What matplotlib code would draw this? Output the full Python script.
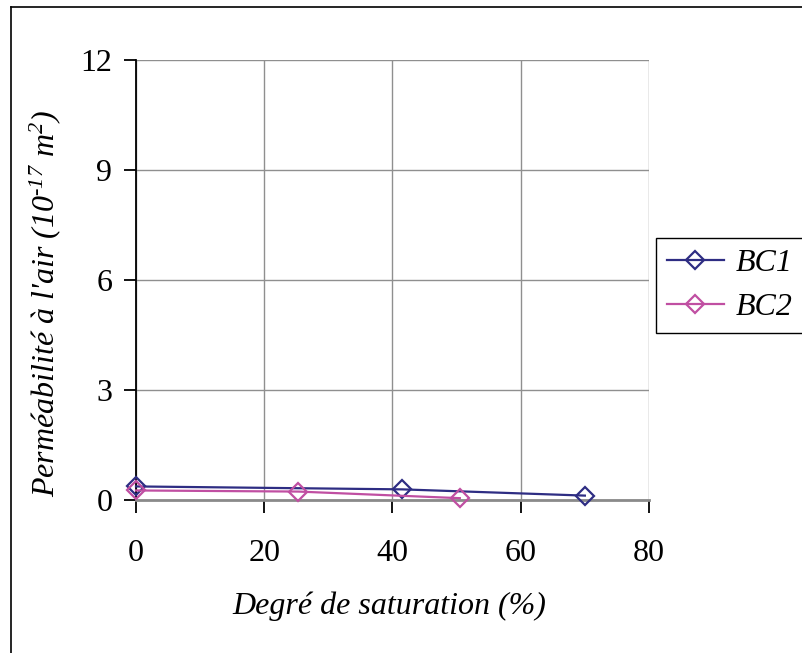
import matplotlib
matplotlib.use("Agg")
import matplotlib.pyplot as plt
from matplotlib.lines import Line2D

plt.rcParams['font.family'] = ['Liberation Serif', 'DejaVu Serif']
plt.rcParams['mathtext.fontset'] = 'custom'
plt.rcParams['mathtext.rm'] = 'Liberation Serif:italic'
plt.rcParams['mathtext.it'] = 'Liberation Serif:italic'

series_names = ["BC1", "BC2"]
bc1_x = [0, 41.5, 70]
bc1_y = [0.37, 0.29, 0.12]
bc2_x = [0, 25.3, 50.5]
bc2_y = [0.26, 0.23, 0.05]
x_ticks = [0, 20, 40, 60, 80]
y_ticks = [0, 3, 6, 9, 12]

W, H = 803, 653
fig = plt.figure(figsize=(W / 100, H / 100), dpi=100)
ax = fig.add_axes([136 / W, 1 - 500 / H, (649 - 136) / W, (500 - 60) / H])

c1 = '#2E2D83'
c2 = '#C04FA2'
for xs, ys, c, name in [(bc1_x, bc1_y, c1, series_names[0]), (bc2_x, bc2_y, c2, series_names[1])]:
    ax.plot(xs, ys, color=c, lw=1.6, marker='D', markersize=9.5, markerfacecolor='none',
            markeredgecolor=c, markeredgewidth=1.6, label=name, clip_on=False, zorder=3)

ax.set_xlim(0, 80)
ax.set_ylim(0, 12)
ax.set_xticks(x_ticks)
ax.set_yticks(y_ticks)
ax.grid(True, color='#8f8f8f', lw=1.0)
ax.set_axisbelow(True)
for s in ['top', 'right']:
    ax.spines[s].set_visible(False)
ax.spines['left'].set_color('black')
ax.spines['left'].set_linewidth(1.3)
ax.spines['bottom'].set_color('#8a8a8a')
ax.spines['bottom'].set_linewidth(2.0)
ax.tick_params(axis='both', direction='out', length=9, width=1.3, color='black',
               labelsize=23)
ax.tick_params(axis='x', pad=19)
ax.tick_params(axis='y', pad=8)

fig.text(389 / W, 1 - 606 / H, "Degré de saturation (%)", fontsize=23, style='italic',
         ha='center', va='center')
fig.text(45 / W, 1 - 303 / H, "Perméabilité à l'air (10$^{\\text{-}17}$ m$^{2}$)", fontsize=23,
         style='italic', rotation=90, ha='center', va='center')

leg = fig.legend(loc='center', bbox_to_anchor=(729.5 / W, 1 - 285.5 / H), frameon=True,
                 fancybox=False, edgecolor='black', framealpha=1,
                 prop={'size': 23, 'style': 'italic'}, handlelength=1.8,
                 handletextpad=0.35, borderpad=0.35, labelspacing=0.45)
leg.get_frame().set_linewidth(1.0)

fig.add_artist(Line2D([11 / W, 11 / W], [0, 1 - 7 / H], color='black', lw=1.2,
                      transform=fig.transFigure))
fig.add_artist(Line2D([11 / W, 1], [1 - 7 / H, 1 - 7 / H], color='black', lw=1.2,
                      transform=fig.transFigure))

fig.savefig("out.png", dpi=100)
